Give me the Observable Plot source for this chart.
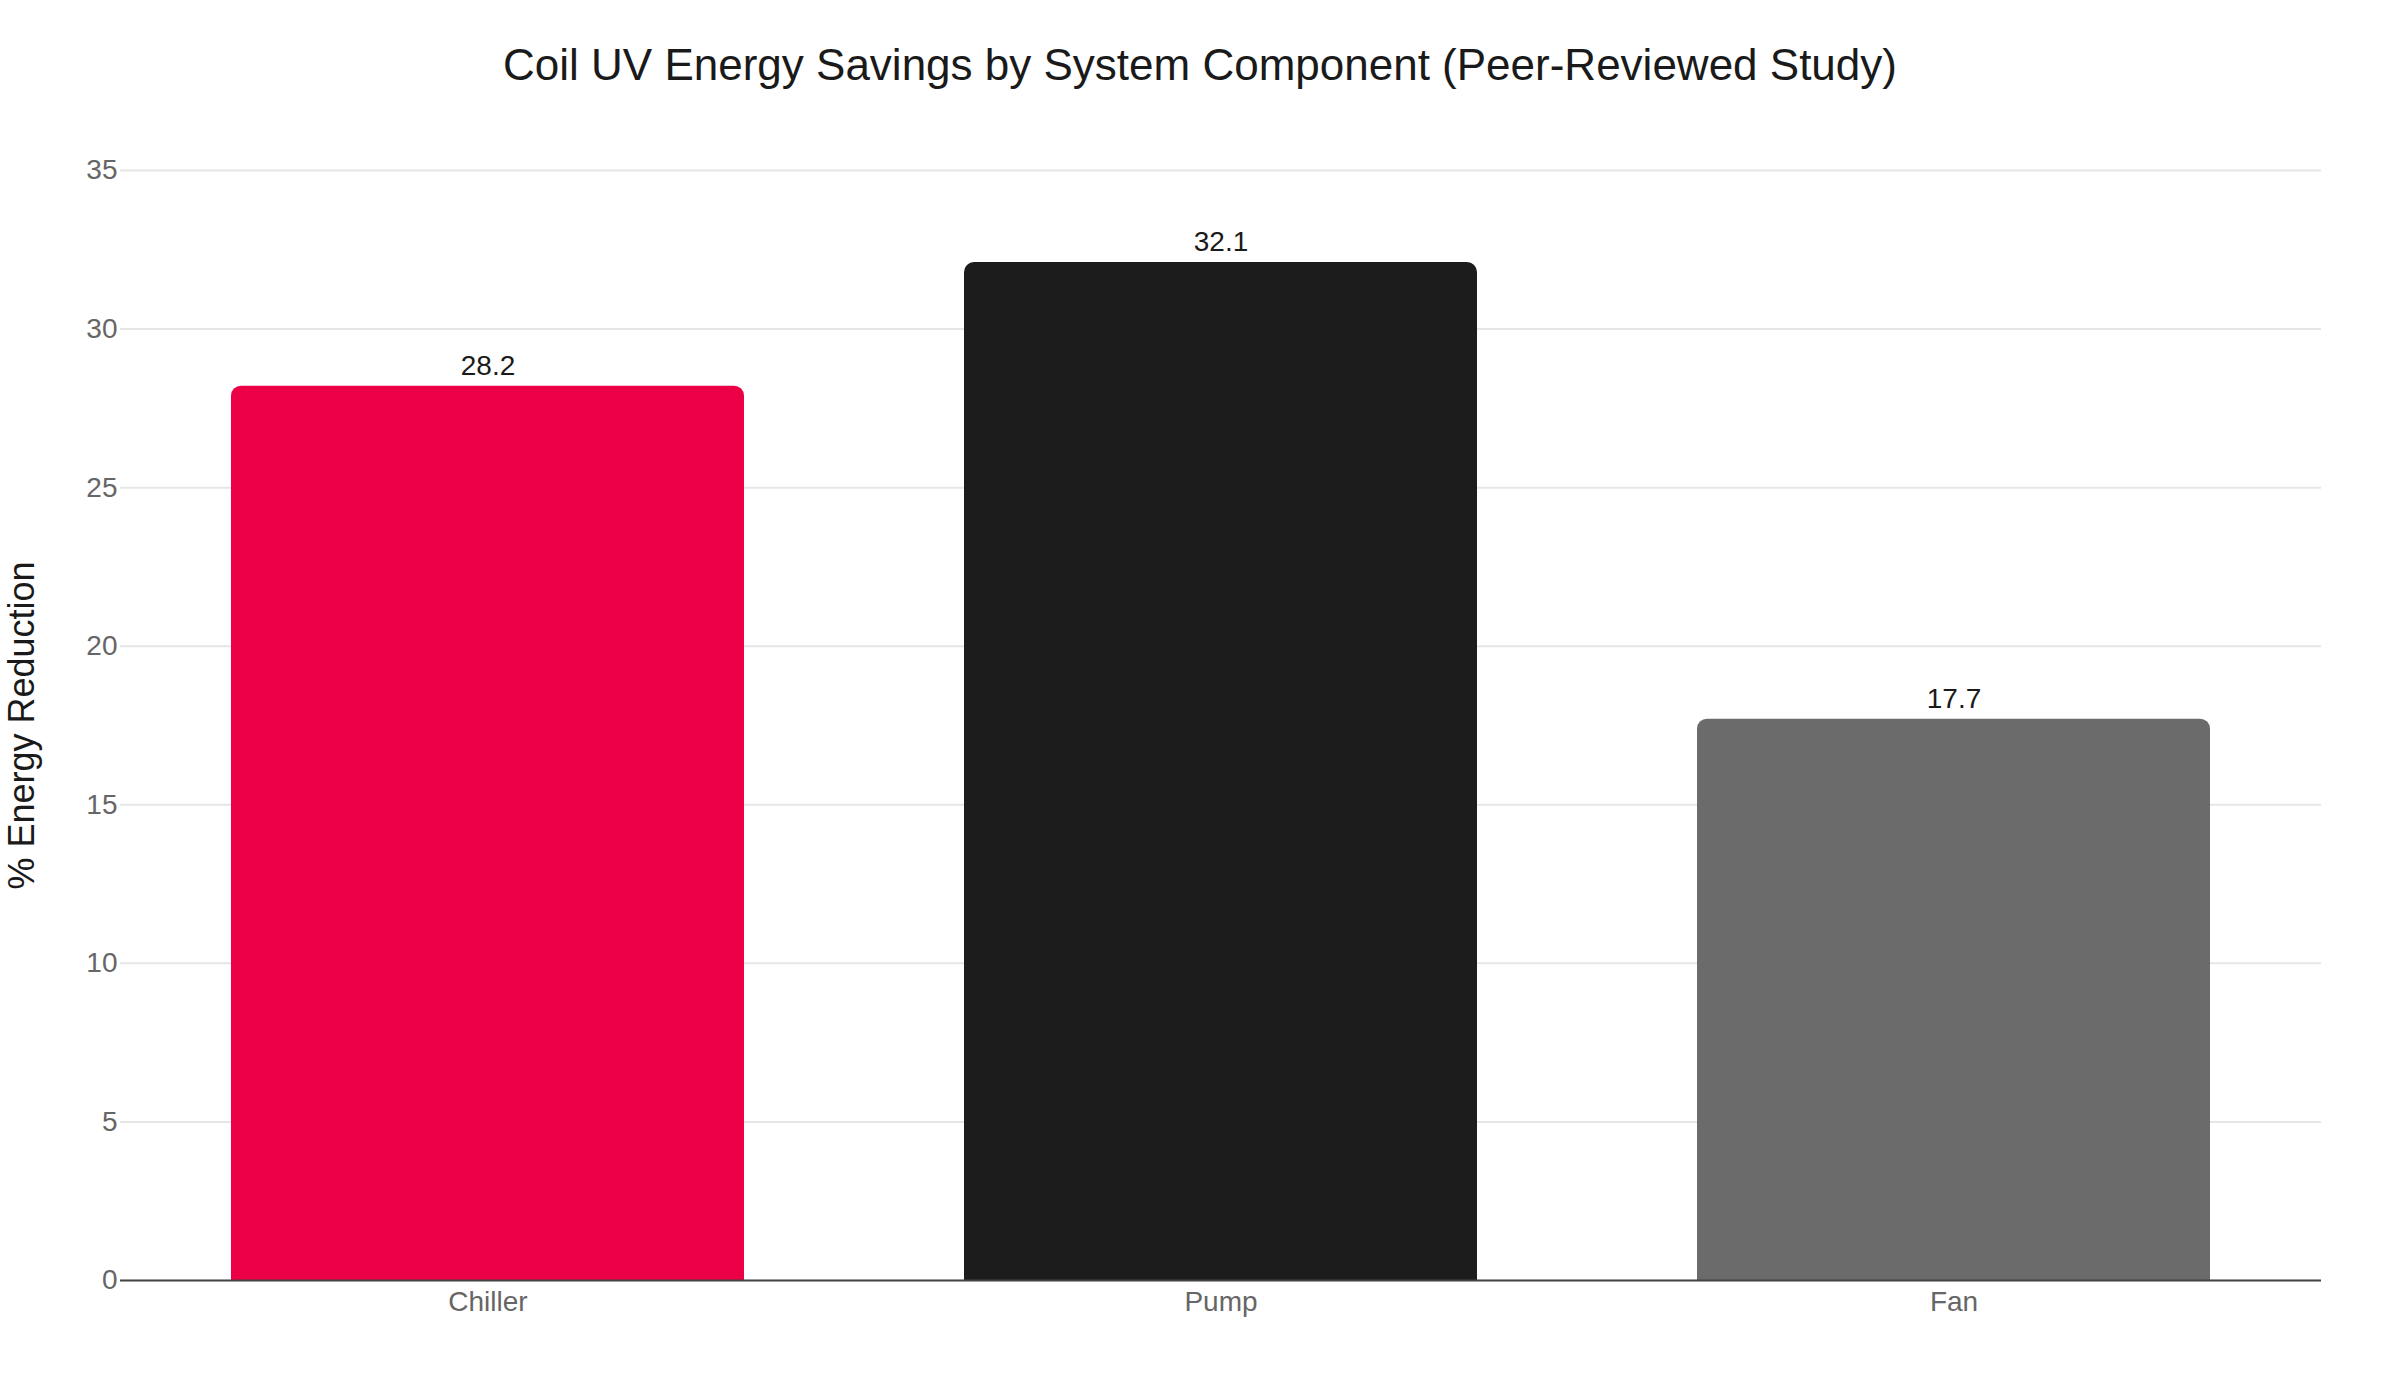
<!DOCTYPE html>
<html>
<head>
<meta charset="utf-8">
<script src="https://cdn.jsdelivr.net/npm/d3@7"></script>
<script src="https://cdn.jsdelivr.net/npm/@observablehq/plot@0.6"></script>
<style>
  html, body { margin: 0; padding: 0; background: #fff; }
  #wrap { position: relative; width: 2400px; height: 1400px; font-family: "Liberation Sans", Arial, Helvetica, sans-serif; }
  #title { position: absolute; top: 43px; left: 0; width: 2400px; text-align: center; font-size: 44px; line-height: 44px; color: #1a1a1a; }
  #chart { position: absolute; top: 120px; left: 0; }
</style>
</head>
<body>
<div id="wrap">
  <div id="title">Coil UV Energy Savings by System Component (Peer-Reviewed Study)</div>
  <div id="chart"></div>
</div>
<script>
const categories = ["Chiller", "Pump", "Fan"];
const values = [28.2, 32.1, 17.7];
const barColors = ["#EB0045", "#1C1C1C", "#6B6B6B"];
const yTicks = [0, 5, 10, 15, 20, 25, 30, 35];
const yLabel = "% Energy Reduction";

const data = categories.map((c, i) => ({component: c, value: values[i]}));

const chart = Plot.plot({
  width: 2400,
  height: 1280,
  marginTop: 50,
  marginBottom: 120,
  marginLeft: 120,
  marginRight: 79,
  style: {fontFamily: "'Liberation Sans', Arial, Helvetica, sans-serif", fontSize: "28px", background: "#fff"},
  x: {domain: categories, paddingInner: 0.3, paddingOuter: 0.15, label: null},
  y: {domain: [0, 35], label: null},
  color: {domain: categories, range: barColors},
  marks: [
    Plot.gridY(yTicks, {stroke: "#e6e6e6", strokeOpacity: 1, strokeWidth: 2}),
    Plot.barY(data, {x: "component", y: "value", fill: "component", ry1: 10}),
    Plot.ruleY([0], {stroke: "#444", strokeWidth: 2}),
    Plot.axisX({tickSize: 0, tickPadding: 11, label: null, fontSize: 28, color: "#666"}),
    Plot.axisY({ticks: yTicks, tickSize: 0, tickPadding: 3, label: null, fontSize: 28, color: "#666"}),
    Plot.text(data, {x: "component", y: "value", text: d => d.value.toFixed(1), lineAnchor: "bottom", dy: -11, fontSize: 28, fill: "#1a1a1a"}),
    Plot.text([yLabel], {frameAnchor: "left", rotate: -90, textAnchor: "middle", lineAnchor: "top", dx: -112, fontSize: 36, fill: "#1a1a1a"})
  ]
});
document.getElementById("chart").appendChild(chart);
</script>
</body>
</html>
